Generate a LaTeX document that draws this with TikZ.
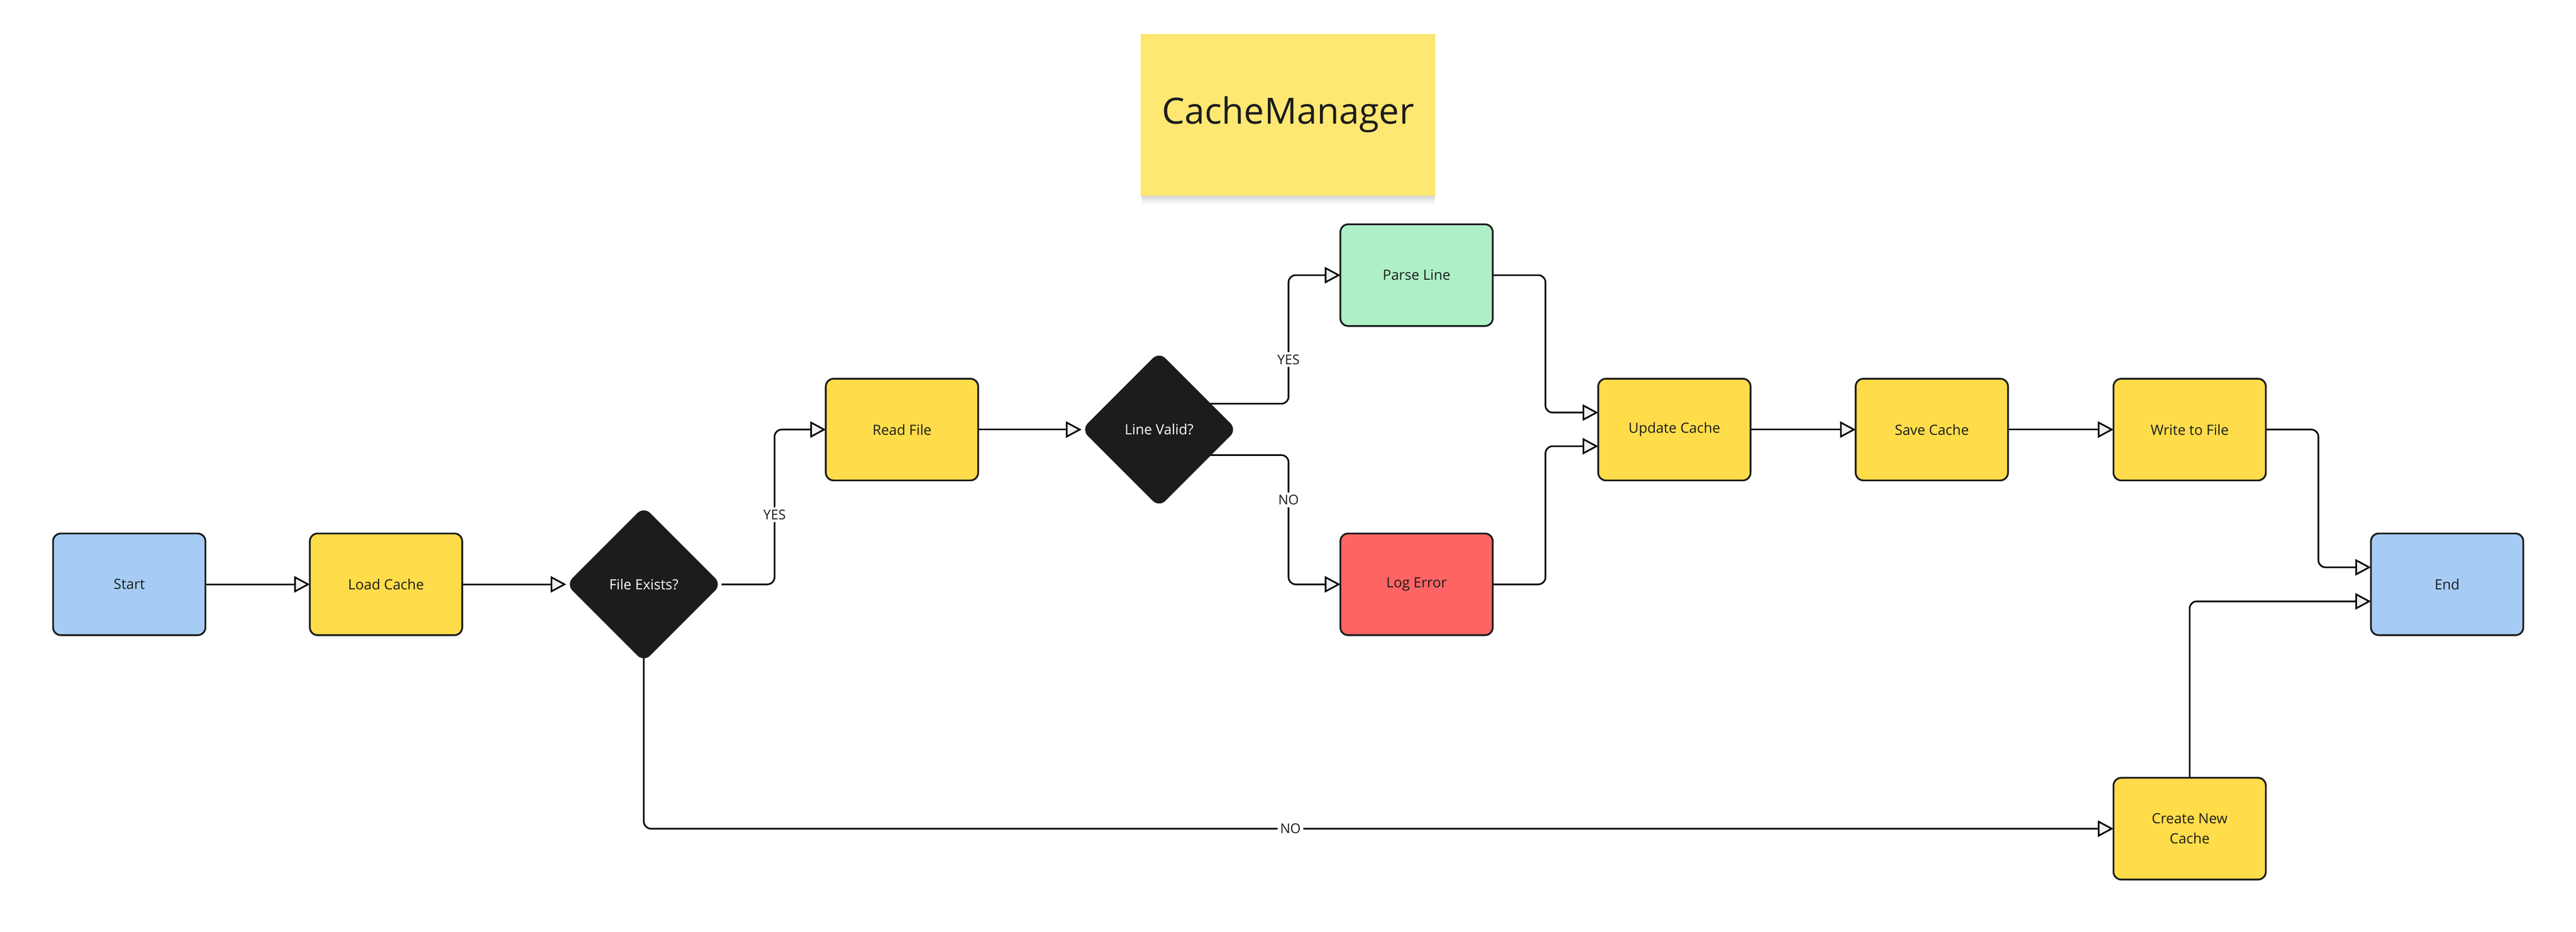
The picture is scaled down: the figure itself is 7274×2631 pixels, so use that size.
\documentclass[tikz,border=0pt]{standalone}
\usepackage{fontspec}
\setmainfont{Open Sans}
\usetikzlibrary{arrows.meta,shapes.geometric,calc,backgrounds}
\definecolor{ink}{HTML}{1C1C1C}
\definecolor{yel}{HTML}{FFDC4A}
\definecolor{blu}{HTML}{A6CCF5}
\definecolor{grn}{HTML}{ADF0C7}
\definecolor{rd}{HTML}{FF6464}
\definecolor{stickyc}{HTML}{FEE872}
\definecolor{tipfill}{HTML}{EFEFEF}
\begin{document}
\begin{tikzpicture}[x=0.01cm,y=-0.01cm,
 box/.style={draw=ink, line width=1.42pt, rounded corners=0.22cm, minimum width=4.30cm, minimum height=2.87cm, inner sep=0pt, outer sep=0pt, font=\fontsize{11.3}{16.2}\selectfont, text=ink, align=center},
 dia/.style={diamond, fill=ink, minimum width=4.38cm, minimum height=4.38cm, aspect=1, rounded corners=0.25cm, inner sep=0pt, outer sep=0pt, text=white, font=\fontsize{11.3}{16.2}\selectfont},
 conn/.style={draw=black, line width=1.3pt, rounded corners=0.2cm, -{Triangle[length=0.44cm,width=0.46cm,fill=tipfill]}},
 lbl/.style={fill=white, font=\fontsize{10.8}{13}\selectfont, text=ink, inner sep=2pt}
]
\useasboundingbox (0,0) rectangle (7274,2631);
% sticky shadow
\foreach \i in {1,...,8}{
  \fill[black, opacity=0.018] (3221+\i*0.5,110) rectangle (4054-\i*0.5,553+\i*3);
}
\node[fill=stickyc, minimum width=8.33cm, minimum height=4.57cm, inner sep=0pt, outer sep=0pt, font=\fontsize{29}{35}\selectfont, text=ink] (title) at (3637,324) {CacheManager};

\node[box, fill=blu] (start) at (365,1650) {Start};
\node[box, fill=yel] (load) at (1090,1650) {Load Cache};
\node[dia] (fe) at (1818,1650) {File Exists?};
\node[box, fill=yel] (read) at (2547,1213) {Read File};
\node[dia] (lv) at (3273,1213) {Line Valid?};
\node[box, fill=grn] (parse) at (4000,777) {Parse Line};
\node[box, fill=rd] (log) at (4000,1650) {Log Error};
\node[box, fill=yel] (update) at (4728,1213) {Update Cache};
\node[box, fill=yel] (save) at (5455,1213) {Save Cache};
\node[box, fill=yel] (write) at (6183,1213) {Write to File};
\node[box, fill=blu] (end) at (6910,1650) {End};
\node[box, fill=yel] (create) at (6183,2340) {Create New\\Cache};

\begin{pgfonlayer}{background}
\fill[white] (0,0) rectangle (7274,2631);
\draw[conn] (start.east) -- (load.west);
\draw[conn] (load.east) -- (fe.west);
\draw[conn] (fe.east) -- ++(150,0) coordinate (j1) -- node[lbl, pos=0.45] (lyes1) {YES} (j1 |- read.west) -- (read.west);
\draw[conn] (read.east) -- (lv.west);
\draw[conn] ([yshift=0.73cm]lv.center) -| ($(lv.east)!0.5!(parse.west)$) node[lbl, yshift=-0.2cm] (lyes2) {YES} |- (parse.west);
\draw[conn] ([yshift=-0.72cm]lv.center) -| ($(lv.east)!0.5!(log.west)$) node[lbl, yshift=0.2cm] (lno2) {NO} |- (log.west);
\draw[conn] (parse.east) -| ($(parse.east)!0.5!(update.west)$) |- ([yshift=0.48cm]update.west);
\draw[conn] (log.east) -| ($(log.east)!0.5!(update.west)$) |- ([yshift=-0.47cm]update.west);
\draw[conn] (update.east) -- (save.west);
\draw[conn] (save.east) -- (write.west);
\draw[conn] (write.east) -| ($(write.east)!0.5!(end.west)$) |- ([yshift=0.48cm]end.west);
\draw[conn] (create.north) |- ([yshift=-0.48cm]end.west);
\draw[conn] (fe.center) |- node[lbl, pos=0.72] (lno1) {NO} (create.west);
\end{pgfonlayer}
\end{tikzpicture}
\end{document}
